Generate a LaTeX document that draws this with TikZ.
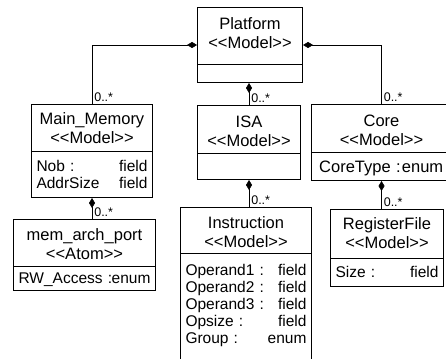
\documentclass[tikz,border=0pt]{standalone}
\usepackage{fontspec}
\setmainfont{Liberation Sans}
\usetikzlibrary{arrows.meta,positioning}

% stereotype text, kerned so << and >> stay two signs
\newcommand{\stereo}[1]{<\kern0pt<#1>\kern0pt>}
% one attribute line: name on the left, type on the right
\newcommand{\attrline}[2]{\leavevmode\hbox to \linewidth{\rlap{#1}\hfil#2}}

\tikzset{
  classbox/.style={draw, line width=1pt, inner sep=0pt, anchor=north west},
  classtitle/.style={align=center, inner sep=0pt, font=\fontsize{16.5}{19}\selectfont},
  attrs/.style={align=left, inner sep=0pt, anchor=north, font=\fontsize{15.5}{17}\selectfont},
  comp/.style={line width=0.6pt, -{Diamond[length=10pt,width=6pt]}},
  mult/.style={anchor=south west, inner sep=2pt, font=\fontsize{12.5}{14}\selectfont},
}

\begin{document}
\begin{tikzpicture}[x=1pt, y=-1pt]
    \useasboundingbox (0,0) rectangle (446,358);
    \clip (0,0) rectangle (446,358);

    % Platform
    \node[classbox, minimum width=105pt, minimum height=75pt] (platform) at (197,7) {};
    \node[classtitle] (platformtitle) at (platform.north |- 0,33.5) {Platform\\\stereo{Model}};
    \draw[line width=1pt] (platform.west |- 0,65) -- (platform.east |- 0,65);

    % Main_Memory
    \node[classbox, minimum width=121pt, minimum height=93pt] (mainmem) at (31,104) {};
    \node[classtitle] (mainmemtitle) at (mainmem.north |- 0,128) {Main\_Memory\\\stereo{Model}};
    \draw[line width=1pt] (mainmem.west |- 0,151) -- (mainmem.east |- 0,151);
    \node[attrs, text width=111pt] (mainmemattrs) at (mainmem.north |- 0,160)
        {\attrline{Nob :}{field}\\\attrline{AddrSize}{field}};

    % ISA
    \node[classbox, minimum width=103pt, minimum height=74pt] (isa) at (197,105) {};
    \node[classtitle] (isatitle) at (isa.north |- 0,131) {ISA\\\stereo{Model}};
    \draw[line width=1pt] (isa.west |- 0,153) -- (isa.east |- 0,153);

    % Core
    \node[classbox, minimum width=140pt, minimum height=76pt] (core) at (311,104) {};
    \node[classtitle] (coretitle) at (core.north |- 0,130.5) {Core\\\stereo{Model}};
    \draw[line width=1pt] (core.west |- 0,152) -- (core.east |- 0,152);
    \node[attrs, text width=124pt, anchor=north west, font=\fontsize{16.5}{17}\selectfont]
        (coreattrs) at (319,160.5) {\attrline{CoreType :}{enum}};

    % mem_arch_port
    \node[classbox, minimum width=142pt, minimum height=71pt] (memport) at (13,219) {};
    \node[classtitle] (memporttitle) at (memport.north |- 0,244) {mem\_arch\_port\\\stereo{Atom}};
    \draw[line width=1pt] (memport.west |- 0,266) -- (memport.east |- 0,266);
    \node[attrs, text width=132pt] (memportattrs) at (memport.north |- 0,273)
        {\attrline{RW\_Access :}{enum}};

    % Instruction
    \node[classbox, minimum width=131pt, minimum height=160pt] (instr) at (180,207) {};
    \node[classtitle] (instrtitle) at (instr.north |- 0,232) {Instruction\\\stereo{Model}};
    \draw[line width=1pt] (instr.west |- 0,253) -- (instr.east |- 0,253);
    \node[attrs, text width=121pt] (instrattrs) at (instr.north |- 0,264)
        {\attrline{Operand1 :}{field}\\\attrline{Operand2 :}{field}\\
         \attrline{Operand3 :}{field}\\\attrline{Opsize :}{field}\\
         \attrline{Group :}{enum}};

    % RegisterFile
    \node[classbox, minimum width=113pt, minimum height=77pt] (regfile) at (330,209) {};
    \node[classtitle] (regfiletitle) at (regfile.north |- 0,233.5) {RegisterFile\\\stereo{Model}};
    \draw[line width=1pt] (regfile.west |- 0,258) -- (regfile.east |- 0,258);
    \node[attrs, text width=103pt] (regfileattrs) at (regfile.north |- 0,266)
        {\attrline{Size :}{field}};

    % compositions
    \draw[comp] (mainmem.north) node[mult] {0..*} |- (platform.west);
    \draw[comp] (core.north) node[mult] {0..*} |- (platform.east);
    \draw[comp] (isa.north) node[mult] {0..*} -- (isa.north |- platform.south);
    \draw[comp] (memport.north -| mainmem.south) node[mult] {0..*} -- (mainmem.south);
    \draw[comp] (instr.north -| isa.south) node[mult] {0..*} -- (isa.south);
    \draw[comp] (regfile.north -| core.south) node[mult] {0..*} -- (core.south);

\end{tikzpicture}
\end{document}
